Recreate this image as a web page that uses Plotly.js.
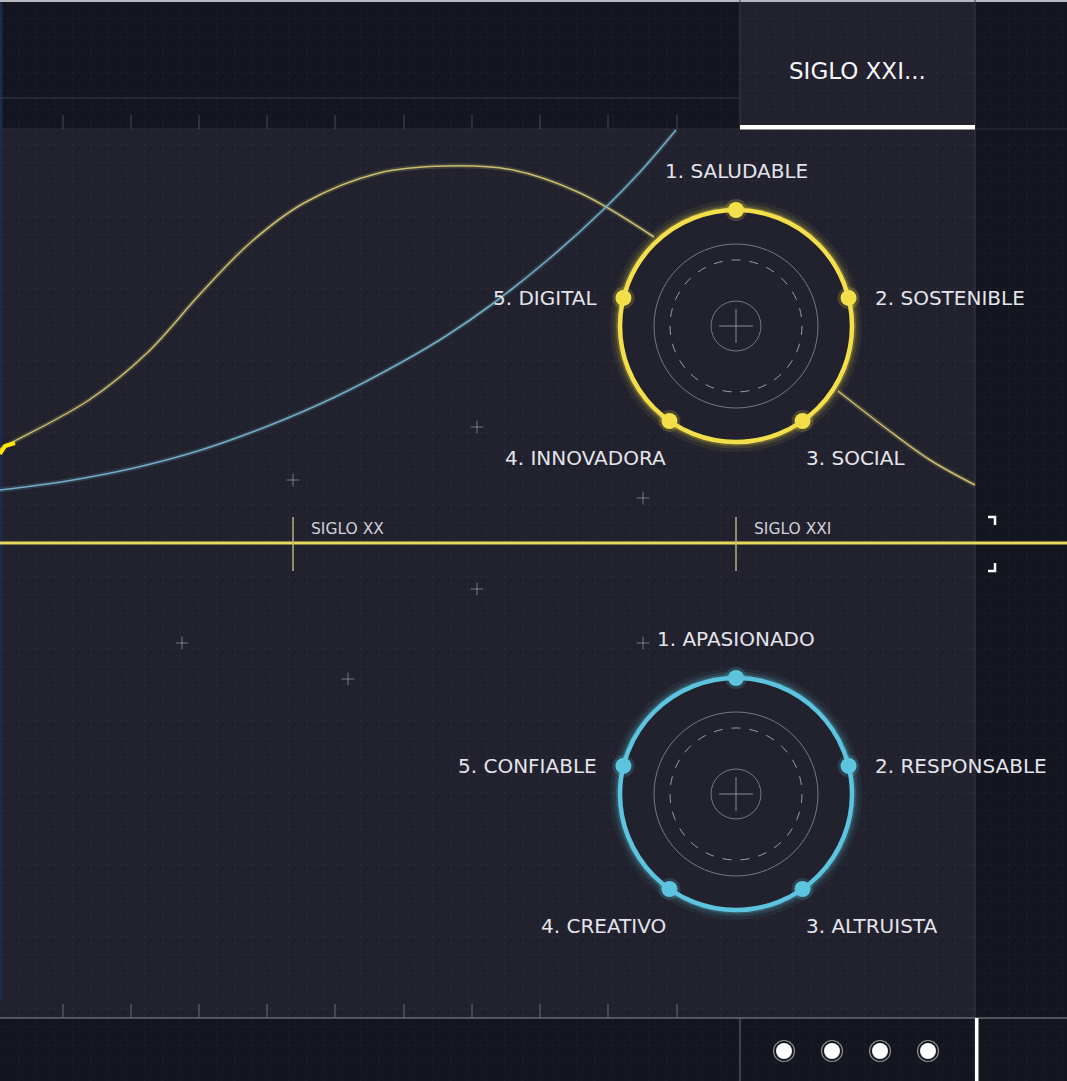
<!DOCTYPE html>
<html><head><meta charset="utf-8">
<script src="https://cdn.plot.ly/plotly-3.0.1.min.js"></script>
<style>html,body{margin:0;padding:0;background:#13151f;overflow:hidden}#chart{width:1067px;height:1081px}</style>
</head><body><div id="chart"></div>
<script>
// ---------- data ----------
const yellowCurveX = [0, 13, 89, 147, 201, 250, 304, 379, 446, 513, 580, 654, null, 838, 887, 930, 975];
const yellowCurveY = [449, 442, 400, 353, 293, 243, 203, 173, 166, 170, 193, 237, null, 391, 429, 460, 485];
const blueCurveX = [0, 67, 134, 201, 268, 335, 402, 446, 491, 550, 603, 640, 676];
const blueCurveY = [490, 481, 468, 450, 426, 397, 362, 336, 305, 258, 210, 172, 130];
const hookX = [0, 5, 15];
const hookY = [454, 446, 443];

const tabLabel = 'SIGLO XXI...';
const eraLabels = ['SIGLO XX', 'SIGLO XXI'];
const eraX = [293, 736];
const timelineY = 543;

const rulerX = [63, 131, 199, 267, 335, 404, 472, 540, 608, 677];
const sparkX = [477, 293, 643, 477, 182, 643, 348];
const sparkY = [427, 480, 498, 589, 643, 643, 679];
const pagerX = [784, 832, 880, 928];

const traitsTop = ['1. SALUDABLE', '2. SOSTENIBLE', '3. SOCIAL', '4. INNOVADORA', '5. DIGITAL'];
const traitsBottom = ['1. APASIONADO', '2. RESPONSABLE', '3. ALTRUISTA', '4. CREATIVO', '5. CONFIABLE'];
const dotAngles = [90, 14, -55, -125, 166];
const wheelCenterX = [736, 736];
const wheelCenterY = [326, 794];

// ---------- styles ----------
const W = 1067, H = 1081;
const BG = '#13151f', PANEL = '#22222e', EDGE = '#3a3b47';
const YEL = '#f3df4a', BLU = '#5cc4de';
const R = 116, R_IN = 82, R_DASH = 66, R_CORE = 25;
const FONT = '"DejaVu Sans", "Open Sans", sans-serif';

const wheels = [
  {cx: wheelCenterX[0], cy: wheelCenterY[0], color: YEL, glow: 'rgba(243,223,74,', labels: traitsTop},
  {cx: wheelCenterX[1], cy: wheelCenterY[1], color: BLU, glow: 'rgba(92,196,222,', labels: traitsBottom}
];

const traces = [];
// curves (glow + line)
traces.push({x: yellowCurveX, y: yellowCurveY, mode: 'lines', line: {color: 'rgba(220,205,110,0.18)', width: 5, shape: 'spline'}, hoverinfo: 'skip'});
traces.push({x: yellowCurveX, y: yellowCurveY, mode: 'lines', line: {color: '#c9bf70', width: 1.5, shape: 'spline'}, hoverinfo: 'skip'});
traces.push({x: blueCurveX, y: blueCurveY, mode: 'lines', line: {color: 'rgba(110,180,205,0.18)', width: 5, shape: 'spline'}, hoverinfo: 'skip'});
traces.push({x: blueCurveX, y: blueCurveY, mode: 'lines', line: {color: '#72aec4', width: 1.6, shape: 'spline'}, hoverinfo: 'skip'});
traces.push({x: hookX, y: hookY, mode: 'lines', line: {color: '#ffe600', width: 4}, hoverinfo: 'skip'});
// sparkles
traces.push({x: sparkX, y: sparkY, mode: 'markers', marker: {symbol: 'cross-thin', size: 9, line: {color: 'rgba(190,190,205,0.55)', width: 1}}, hoverinfo: 'skip'});

const annotations = [];
const shapes = [];

wheels.forEach(w => {
  // glow rings
  [[20, 0.06], [13, 0.11], [8, 0.22]].forEach(([lw, a]) => {
    traces.push({x: [w.cx], y: [w.cy], mode: 'markers', marker: {size: 2 * R, color: 'rgba(0,0,0,0)', line: {color: w.glow + a + ')', width: lw}}, hoverinfo: 'skip'});
  });
  // main ring
  traces.push({x: [w.cx], y: [w.cy], mode: 'markers', marker: {size: 2 * R, color: PANEL, line: {color: w.color, width: 4.5}}, hoverinfo: 'skip'});
  // inner circles
  traces.push({x: [w.cx, w.cx], y: [w.cy, w.cy], mode: 'markers', marker: {size: [2 * R_IN, 2 * R_CORE], color: 'rgba(0,0,0,0)', line: {color: '#9a9aaa', width: 1}}, hoverinfo: 'skip'});
  traces.push({x: [w.cx], y: [w.cy], mode: 'markers', marker: {symbol: 'cross-thin', size: 24, line: {color: '#8a8a98', width: 1}}, hoverinfo: 'skip'});
  shapes.push({type: 'circle', xref: 'x', yref: 'y', x0: w.cx - R_DASH, x1: w.cx + R_DASH, y0: w.cy - R_DASH, y1: w.cy + R_DASH, line: {color: '#9a9aaa', width: 1, dash: 'dash'}, layer: 'above'});
  // dots
  const dx = dotAngles.map(a => w.cx + R * Math.cos(a * Math.PI / 180));
  const dy = dotAngles.map(a => w.cy - R * Math.sin(a * Math.PI / 180));
  traces.push({x: dx, y: dy, mode: 'markers', marker: {size: 22, color: w.glow + '0.18)'}, hoverinfo: 'skip'});
  traces.push({x: dx, y: dy, mode: 'markers', marker: {size: 16, color: w.color}, hoverinfo: 'skip'});
  // labels
  const lab = {font: {family: FONT, size: 20, color: '#e4e4ec'}, showarrow: false, xref: 'x', yref: 'y', yanchor: 'middle'};
  annotations.push(Object.assign({}, lab, {text: w.labels[0], x: dx[0], y: dy[0] - 39, xanchor: 'center'}));
  annotations.push(Object.assign({}, lab, {text: w.labels[1], x: dx[1] + 24, y: dy[1], xanchor: 'left'}));
  annotations.push(Object.assign({}, lab, {text: w.labels[2], x: dx[2] + 1, y: dy[2] + 37, xanchor: 'left'}));
  annotations.push(Object.assign({}, lab, {text: w.labels[3], x: dx[3] - 1, y: dy[3] + 37, xanchor: 'right'}));
  annotations.push(Object.assign({}, lab, {text: w.labels[4], x: dx[4] - 24, y: dy[4], xanchor: 'right'}));
});

// pager dots
traces.push({x: pagerX, y: pagerX.map(() => 1051), mode: 'markers', marker: {size: 21, color: 'rgba(0,0,0,0)', line: {color: '#8a8a96', width: 1.2}}, hoverinfo: 'skip'});
traces.push({x: pagerX, y: pagerX.map(() => 1051), mode: 'markers', marker: {size: 16, color: '#ffffff'}, hoverinfo: 'skip'});

// ---------- layout shapes ----------
const rect = (x0, y0, x1, y1, fill) => ({type: 'rect', xref: 'x', yref: 'y', x0, y0, x1, y1, fillcolor: fill, line: {width: 0}, layer: 'below'});
const seg = (x0, y0, x1, y1, color, width, layer) => ({type: 'line', xref: 'x', yref: 'y', x0, y0, x1, y1, line: {color, width}, layer: layer || 'below'});

shapes.push(rect(0, 129, 975, 1018, PANEL));
shapes.push(rect(740, 0, 975, 129, PANEL));
shapes.push(rect(0, 0, 2.5, 1000, '#1a2a48'));
shapes.push(seg(0, 1, W, 1, '#b8b8c0', 2));
shapes.push(seg(0, 98, 740, 98, EDGE, 1));
shapes.push(seg(740, 0, 740, 129, EDGE, 1));
shapes.push(seg(975, 0, 975, H, EDGE, 1));
shapes.push(seg(975, 129, W, 129, '#2e2f3a', 1));
shapes.push(seg(0, 129, 740, 129, '#2e2f3a', 1));
shapes.push(rect(740, 125, 975, 129.5, '#ffffff'));
shapes.push(seg(0, 1018, W, 1018, '#8e8e9a', 1.2));
shapes.push(seg(740, 1018, 740, H, '#6a6a76', 1));
shapes.push(rect(975, 1018, 978.5, H, '#ffffff'));
rulerX.forEach(x => {
  shapes.push(seg(x, 115, x, 129, '#4a4b57', 1));
  shapes.push(seg(x, 1004, x, 1018, '#6a6b77', 1));
});
// timeline
shapes.push(seg(0, timelineY, W, timelineY, '#e8da5c', 3, 'above'));
eraX.forEach(x => shapes.push(seg(x, 517, x, 571, '#b9b07a', 1.5, 'above')));
// corner brackets
shapes.push({type: 'path', path: 'M 988 517 L 995 517 L 995 525', line: {color: '#ffffff', width: 2.5}, layer: 'above'});
shapes.push({type: 'path', path: 'M 995 563 L 995 571 L 988 571', line: {color: '#ffffff', width: 2.5}, layer: 'above'});

eraLabels.forEach((t, i) => annotations.push({text: t, x: eraX[i] + 16, y: 529, xref: 'x', yref: 'y', xanchor: 'left', yanchor: 'middle', showarrow: false, font: {family: FONT, size: 15.5, color: '#d0d0da'}}));
annotations.push({text: tabLabel, x: 857, y: 71, xref: 'x', yref: 'y', xanchor: 'center', yanchor: 'middle', showarrow: false, font: {family: FONT, size: 23, color: '#f4f4f8'}});

const layout = {
  width: W, height: H,
  margin: {l: 0, r: 0, t: 0, b: 0},
  paper_bgcolor: BG, plot_bgcolor: BG,
  showlegend: false,
  xaxis: {range: [0, W], showgrid: true, dtick: 18, tick0: 0, gridcolor: 'rgba(255,255,255,0.035)', griddash: 'dot', zeroline: false, showticklabels: false, ticks: '', fixedrange: true},
  yaxis: {range: [H, 0], showgrid: true, dtick: 18, tick0: 0, gridcolor: 'rgba(255,255,255,0.035)', griddash: 'dot', zeroline: false, showticklabels: false, ticks: '', fixedrange: true},
  shapes, annotations
};
Plotly.newPlot('chart', traces, layout, {displayModeBar: false, staticPlot: true});
</script>
</body></html>
